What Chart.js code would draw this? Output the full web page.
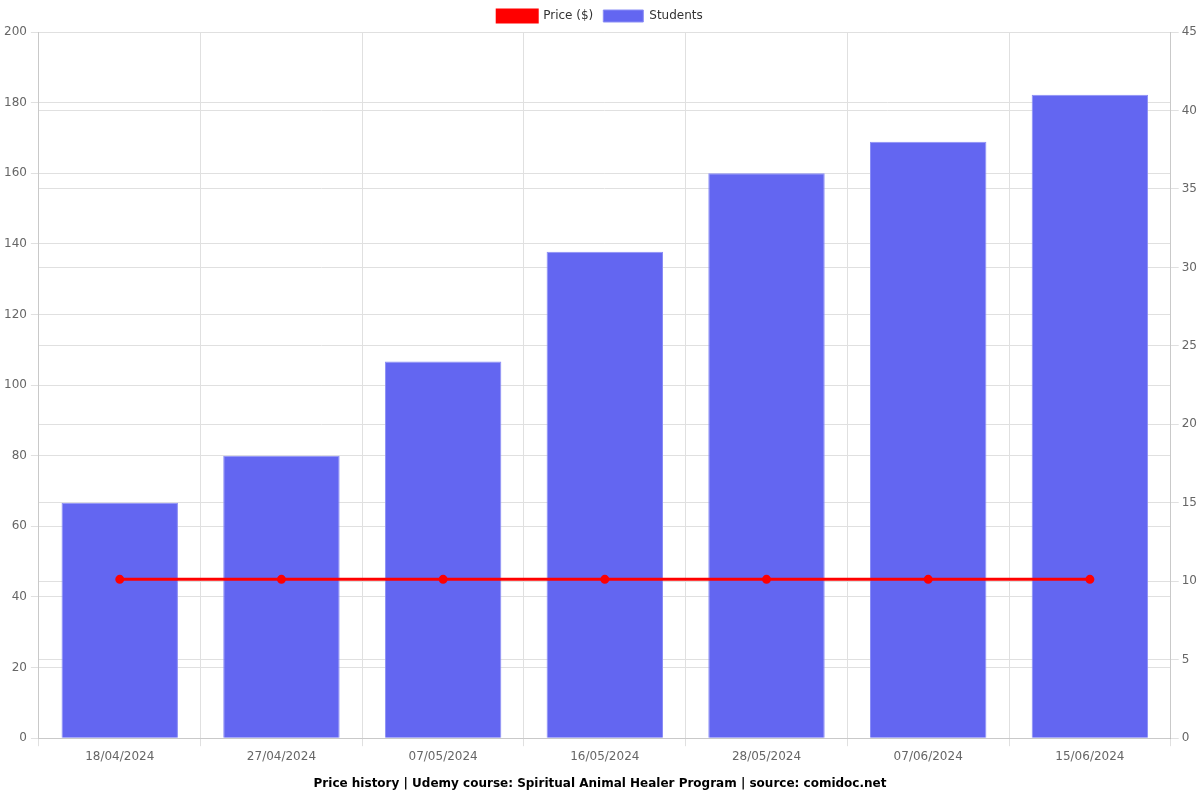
<!DOCTYPE html>
<html>
<head>
<meta charset="utf-8">
<script src="https://cdn.jsdelivr.net/npm/chart.js@4/dist/chart.umd.min.js"></script>
<style>
  html, body { margin: 0; padding: 0; background: #fff; }
  #wrap { width: 1200px; height: 800px; }
</style>
</head>
<body>
<div id="wrap"><canvas id="priceChart"></canvas></div>
<script>
// chart data
const dates = ['18/04/2024', '27/04/2024', '07/05/2024', '16/05/2024', '28/05/2024', '07/06/2024', '15/06/2024'];
const prices = [44.99, 44.99, 44.99, 44.99, 44.99, 44.99, 44.99];
const students = [15, 18, 24, 31, 36, 38, 41];

Chart.defaults.font.family = '"DejaVu Sans", sans-serif';
Chart.defaults.font.size = 12;
Chart.defaults.color = '#666';

new Chart(document.getElementById('priceChart'), {
    type: 'bar',
    data: {
        labels: dates,
        datasets: [{
            type: 'line',
            label: 'Price ($)',
            data: prices,
            borderColor: '#ff0000',
            backgroundColor: '#ff0000',
            borderWidth: 3,
            pointRadius: 3,
            yAxisID: 'y'
        }, {
            type: 'bar',
            label: 'Students',
            data: students,
            backgroundColor: '#6366f1',
            borderColor: '#8b8ef5',
            borderWidth: 1,
            yAxisID: 'y1'
        }]
    },
    options: {
        responsive: true,
        maintainAspectRatio: false,
        animation: false,
        plugins: {
            legend: {
                position: 'top',
                labels: { boxWidth: 40, boxHeight: 12, color: '#333' }
            },
            title: {
                display: true,
                position: 'bottom',
                text: 'Price history | Udemy course: Spiritual Animal Healer Program | source: comidoc.net',
                color: '#000',
                font: { weight: 'bold', size: 12 },
                padding: { top: 10, bottom: 9 }
            }
        },
        scales: {
            x: {
                grid: { color: '#e0e0e0' }
            },
            y: {
                position: 'left',
                min: 0,
                max: 200,
                ticks: { stepSize: 20, padding: 4 },
                grid: { color: '#e0e0e0' }
            },
            y1: {
                position: 'right',
                min: 0,
                max: 45,
                ticks: { stepSize: 5 },
                grid: { color: '#e0e0e0' }
            }
        }
    }
});
</script>
</body>
</html>
